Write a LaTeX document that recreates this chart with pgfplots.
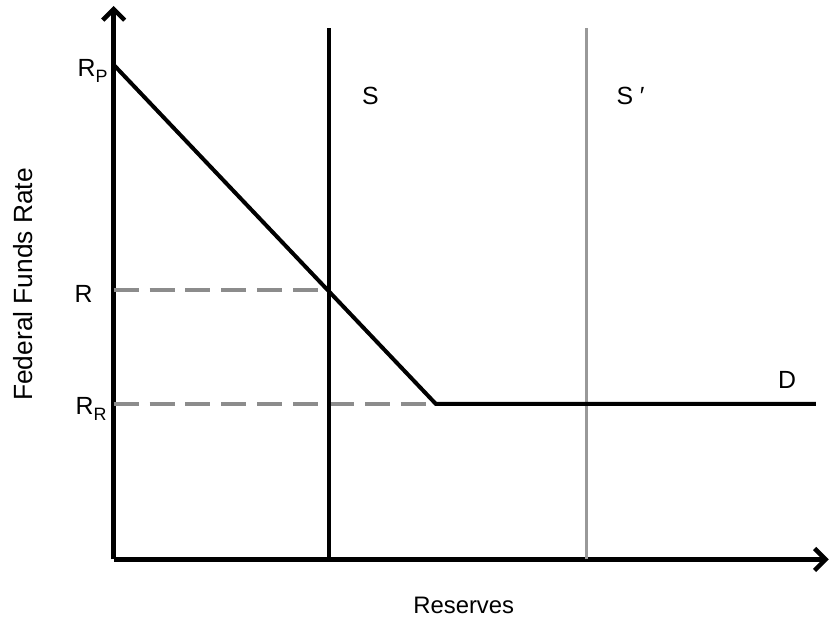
\documentclass[border=0pt]{standalone}
\usepackage{fontspec}
\setmainfont{Liberation Sans}
\usepackage{pgfplots}
\pgfplotsset{compat=1.18}
\usetikzlibrary{arrows.meta}
\definecolor{dashgray}{HTML}{8C8C8C}
\definecolor{shiftgray}{HTML}{999999}
\newcommand{\sub}[1]{\raisebox{-6bp}{\fontsize{18}{18}\selectfont #1}}
\tikzset{lbl/.style={font=\fontsize{25}{30}\selectfont,inner sep=0pt}}

\begin{document}
\begin{tikzpicture}
\begin{axis}[
  x=1bp,y=1bp,
  xmin=0,xmax=717,ymin=0,ymax=555,
  enlargelimits=false,clip=false,
  axis lines=left,
  axis line style={line width=4.5bp,-{Straight Barb[length=11bp,width=22bp]}},
  xtick=\empty,ytick=\empty,
  xlabel={Reserves},
  xlabel style={font=\fontsize{24}{28}\selectfont,at={(axis description cs:0.4895,-0.083)},anchor=center},
  ylabel={Federal Funds Rate},
  ylabel style={font=\fontsize{26.5}{30}\selectfont,at={(axis description cs:-0.127,0.497)},anchor=center}]
% invisible frame that fixes the page to the reference size
\path (axis cs:-114,-58) rectangle (axis cs:717,561);
% dashed guides
\addplot[dashgray,line width=4bp,dash pattern=on 25bp off 11bp] coordinates {(0,270) (216,270)};
\addplot[dashgray,line width=4bp,dash pattern=on 25bp off 11bp] coordinates {(0,156) (323,156)};
% supply curves
\addplot[shiftgray,line width=3.5bp] coordinates {(474,0) (474,533)};
\addplot[black,line width=3.5bp] coordinates {(216,0) (216,533)};
% demand
\addplot[black,line width=4bp,line join=miter] coordinates {(0,496) (323,156) (704,156)};
% labels
\node[lbl,anchor=base east] at (axis cs:-6,484) {R\sub{P}};
\node[lbl,anchor=base east] at (axis cs:-21,258) {R};
\node[lbl,anchor=base east] at (axis cs:-7,145) {R\sub{R}};
\node[lbl,anchor=base west] at (axis cs:249,456) {S};
\node[lbl,anchor=base west] at (axis cs:504,456) {S ′};
\node[lbl,anchor=base west] at (axis cs:666,171) {D};
\end{axis}
\end{tikzpicture}
\end{document}
